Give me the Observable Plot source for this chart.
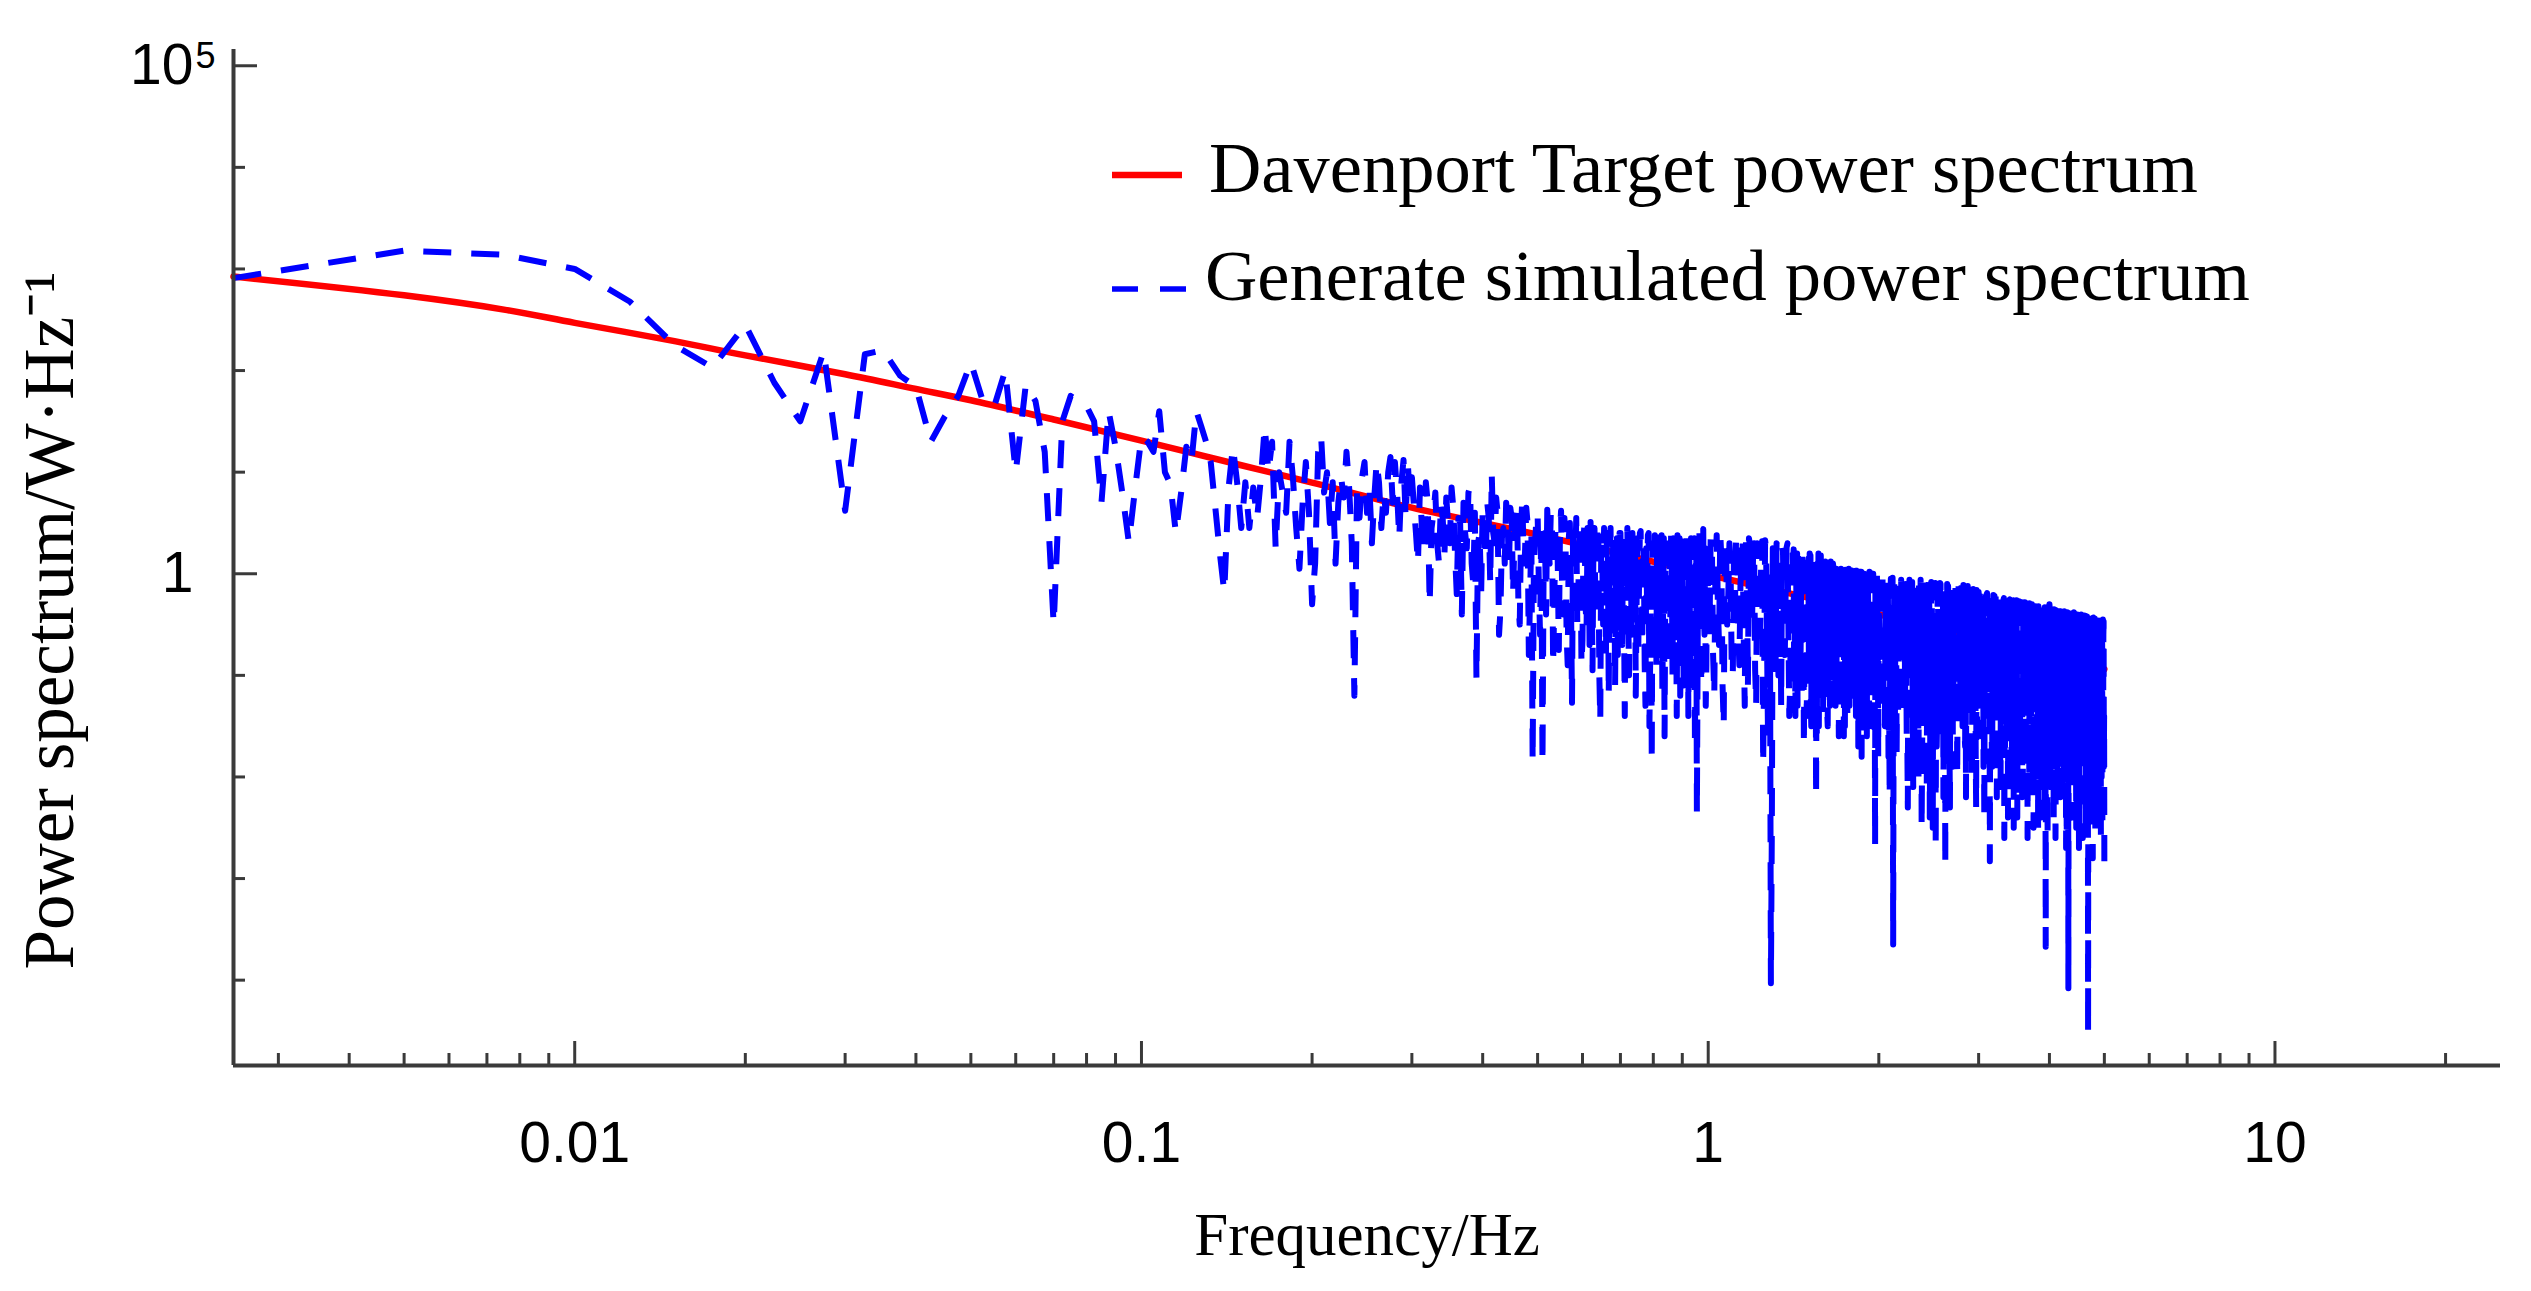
<!DOCTYPE html>
<html>
<head>
<meta charset="utf-8">
<script src="https://cdn.jsdelivr.net/npm/d3@7"></script>
<script src="https://cdn.jsdelivr.net/npm/@observablehq/plot@0.6"></script>
<style>
  html, body { margin: 0; padding: 0; background: #ffffff; }
  #chart { position: relative; width: 2531px; height: 1291px; overflow: hidden; }
  #legend { position: absolute; left: 0; top: 0; pointer-events: none; }
</style>
</head>
<body>
<div id="chart"></div>
<script>
// ---------- DATA ----------
// Davenport target spectrum (Hz, W·Hz^-1)
const targetFreq  = [0.0025, 0.005, 0.0075, 0.01, 0.015, 0.02, 0.03, 0.04, 0.05, 0.07, 0.1, 0.15, 0.2, 0.3, 0.5, 0.7, 1, 1.5, 2, 3, 5];
const targetPower = [841, 550, 398, 295, 195, 141, 92, 66, 51, 33, 20.4, 11.7, 7.9, 4.47, 2.43, 1.57, 0.977, 0.582, 0.398, 0.229, 0.115];

// Simulated spectrum, log10 of power, read segment by segment on the frequency grid
// segment 1: 0.0025 … 0.1 Hz, step 0.0025
const sim1Start = 0.0025, sim1Step = 0.0025;
const sim1Log10 = [
  2.91, 3.18, 3.14, 3.00, 2.68, 2.25, 2.03, 2.45, 1.88, 1.50,
  2.19, 0.62, 2.16, 2.20, 1.95, 1.84, 1.30, 1.55, 1.75, 2.08,
  1.70, 1.65, 2.00, 1.00, 1.86, 1.70, 1.20, -0.50, 1.50, 1.75,
  1.70, 1.65, 1.50, 0.70, 1.60, 1.25, 0.80, 0.31, 0.85, 1.35
];
// segment 2: 0.1025 … 0.3 Hz, step 0.0025
const sim2Start = 0.1025, sim2Step = 0.0025;
const sim2Log10 = [
  1.30, 1.20, 1.60, 1.00, 0.88, 0.40, 0.80, 1.25, 1.10, 1.60,
  1.45, 1.30, 1.10, 0.65, 0.20, -0.18, 0.85, 1.25, 0.90, 0.45,
  0.90, 0.45, 0.85, 0.55, 0.95, 1.45, 1.00, 1.30, 0.25, 1.00,
  0.80, 0.60, 1.30, 0.95, 0.45, 0.05, 0.70, 1.10, 0.60, -0.30,
  0.10, 1.20, 1.35, 0.80, 1.00, 0.50, 0.90, 0.10, 0.70, 0.95,
  0.75, 1.20, 0.85, 0.30, -1.20, 0.80, 0.55, 0.95, 1.10, 0.60,
  0.85, 0.30, 0.75, 1.10, 0.90, 0.45, 0.80, 0.60, 1.00, 1.15,
  0.70, 1.10, 0.80, 0.35, 0.90, 1.12, 0.55, 1.10, 0.75, 0.95
];
// segment 3: 0.305 … 1.0 Hz, step 0.005
const sim3Start = 0.305, sim3Step = 0.005;
const sim3Log10 = [
  0.40, 0.85, 0.20, 0.70, 0.45, 0.80, 0.10, 0.55, 0.75, 0.30,
  0.65, -0.20, 0.50, 0.70, 0.25, 0.85, -0.10, -1.04, 0.40, 0.65,
  0.15, 0.55, 0.98, 0.30, 0.60, -0.35, 0.45, 0.70, 0.05, 0.55,
  0.30, 0.65, -0.50, 0.75, 0.20, 0.50, -0.20, -1.85, 0.30, 0.60,
  -0.60, -1.87, 0.40, 0.63, 0.10, 0.55, -0.30, 0.45, -0.75, 0.62,
  -0.40, 0.35, -0.90, 0.50, -1.27, 0.30, 0.55, -0.20, 0.40, -0.65,
  0.50, -0.55, 0.30, 0.51, -0.95, 0.45, -0.30, 0.35, -1.45, 0.20,
  0.45, -0.80, 0.40, 0.15, -0.60, 0.42, -1.10, 0.35, -0.35, 0.40,
  -0.70, -0.30, 0.30, 0.45, -1.00, 0.25, 0.40, -0.45, -1.20, 0.35,
  -0.10, 0.42, -0.70, 0.15, -1.30, -0.30, 0.40, -0.85, -1.85, 0.25,
  0.38, -0.90, 0.20, 0.40, -0.50, -1.20, 0.35, -0.15, 0.30, -0.90,
  0.25, 0.40, -1.00, -0.40, 0.30, -1.40, -0.25, 0.35, -0.70, 0.20,
  -1.10, 0.38, -0.35, 0.10, 0.30, -1.10, 0.25, -0.60, 0.35, -0.45,
  -2.36, 0.20, 0.40, -0.80, 0.15, 0.44, -0.60, -1.30, 0.30, -0.30
];
// segment 3b: 0.3075 … 0.9975 Hz, step 0.005 (in-between grid points)
const sim3bStart = 0.3075, sim3bStep = 0.005;
const sim3bLog10 = [
  0.10, 0.45, 0.90, -0.30, 0.60, 0.30, 0.70, 0.20, 0.50, 0.85,
  0.20, 0.55, -0.40, 0.40, 0.80, 0.10, 0.60, 0.30, -0.20, 0.25,
  0.70, -0.10, 0.40, 0.75, -0.60, 0.35, 0.10, 0.55, 0.65, -0.20,
  0.60, -0.30, 0.45, 0.10, 0.65, -0.80, 0.40, 0.10, 0.55, -0.10,
  0.50, 0.20, -0.40, 0.30, 0.60, -0.90, 0.45, 0.15, 0.40, -0.20,
  0.55, -0.60, 0.35, -0.20, 0.45, 0.10, -0.50, 0.50, -0.90, 0.35,
  -0.30, 0.45, -0.70, 0.10, 0.40, -0.40, 0.50, -1.00, 0.30, -0.50,
  0.10, 0.35, -1.20, 0.45, -0.20, 0.30, 0.05, -0.80, 0.40, -0.20,
  0.35, -1.40, 0.10, -0.40, 0.35, -0.60, 0.05, 0.40, -0.30, -0.80,
  0.40, -0.50, 0.30, -0.90, 0.25, 0.38, -1.50, 0.10, 0.30, -0.60,
  -0.30, 0.35, -0.80, 0.00, 0.38, -0.40, -1.60, 0.30, -0.60, 0.20,
  -0.50, 0.10, 0.35, -0.90, -0.20, 0.38, -0.60, -1.20, 0.30, -0.30,
  0.25, -0.80, 0.40, -1.40, -0.10, 0.35, -0.90, 0.20, -1.70, 0.30,
  -1.00, -0.30, 0.35, -1.10, 0.42, -0.40, 0.25, -0.90, 0.10
];
// segment 4: 1.01 … 2.0 Hz, step 0.01
const sim4Start = 1.01, sim4Step = 0.01;
const sim4Log10 = [
  0.35, -0.80, 0.10, -0.30, 0.40, -1.10, 0.20, -0.50, 0.30, -0.90,
  0.15, 0.38, -0.60, -0.10, 0.30, -1.30, 0.05, 0.35, -0.40, 0.20,
  -0.95, 0.30, -0.20, 0.10, -1.88, 0.33, -0.70, 0.00, -4.03, 0.25,
  -0.45, 0.30, -1.00, 0.10, 0.28, -0.60, -0.15, 0.30, -1.40, 0.05,
  0.25, -0.75, -0.10, 0.23, -1.20, 0.10, -0.40, 0.22, -0.90, 0.00,
  0.20, -1.50, -0.20, 0.15, -2.20, 0.10, -0.55, 0.18, -1.00, -0.05,
  0.12, -0.70, 0.08, -1.30, -0.20, 0.10, -0.85, 0.05, -0.35, -1.60,
  0.06, -0.50, -1.10, 0.04, -0.25, -1.45, 0.05, -0.70, 0.02, -1.20,
  -0.30, 0.03, -0.95, -1.70, 0.02, -0.45, -1.10, 0.00, -0.60, -1.35,
  0.02, -0.80, -0.20, -1.50, 0.00, -0.55, -2.67, -0.10, -1.00, -0.30
];
// segment 4b: 1.005 … 1.995 Hz, step 0.01 (in-between grid points)
const sim4bStart = 1.005, sim4bStep = 0.01;
const sim4bLog10 = [
  -0.60, 0.30, -1.20, 0.38, -0.70, 0.15, -1.50, 0.32, -0.20, 0.10,
  -1.00, -0.30, 0.35, -0.90, 0.10, -0.60, 0.36, -1.10, 0.28, -0.50,
  0.30, -1.30, 0.15, -0.60, 0.32, -1.00, 0.25, -1.60, -0.30, -2.50,
  0.20, -0.90, 0.28, -0.40, -1.30, 0.22, -0.80, 0.26, -0.50, -1.10,
  -0.60, 0.24, -1.40, 0.20, -0.30, -0.90, 0.22, -1.70, 0.15, -0.50,
  -0.80, 0.18, -0.60, -1.20, 0.16, -1.60, 0.20, -0.90, 0.10, -1.40,
  -0.50, 0.10, -1.50, -0.30, 0.12, -1.00, -0.40, 0.08, -1.20, 0.06,
  -0.90, 0.05, -0.40, -1.60, 0.04, -0.80, 0.06, -1.30, -0.30, 0.03,
  -1.10, -0.40, 0.02, -1.20, -0.60, 0.03, -1.80, -0.20, 0.00, -0.90,
  -1.60, -0.30, 0.02, -1.00, -0.50, 0.00, -1.30, -0.70, 0.01, -1.80
];
// segment 4c: 1.4025 … 1.9975 Hz, step 0.005 (in-between grid points)
const sim4cStart = 1.4025, sim4cStep = 0.005;
const sim4cLog10 = [
  -0.40, -0.90, 0.15, -1.10, -0.50, 0.20, -0.70, -1.30, -0.20, 0.18,
  -0.80, -0.30, -1.20, 0.15, -0.60, -1.00, 0.16, -0.40, -1.40, -0.10,
  0.15, -0.90, -0.50, -1.30, 0.12, -0.70, -0.20, -1.10, 0.14, -0.60,
  -1.00, 0.10, -0.40, -1.50, -0.80, 0.12, -0.30, -1.20, 0.08, -0.70,
  -0.40, -1.10, 0.10, -0.80, -1.40, -0.30, 0.08, -0.90, -0.50, 0.06,
  -1.20, -0.60, 0.07, -1.00, -0.40, -1.30, 0.05, -0.70, -0.20, -1.10,
  0.05, -0.80, -1.30, -0.40, 0.04, -1.00, -0.60, 0.05, -1.50, -0.30,
  -0.90, 0.03, -0.50, -1.20, -0.20, 0.04, -1.00, -0.70, 0.02, -1.30,
  -0.50, 0.02, -1.00, -0.30, -1.40, 0.03, -0.70, -0.20, -1.20, 0.01,
  -0.80, -1.30, 0.02, -0.50, -1.00, 0.00, -0.60, -1.50, -0.30, 0.01,
  -1.10, -0.40, 0.00, -0.90, -1.40, -0.20, 0.01, -0.80, -1.20, -0.40,
  0.00, -1.00, -0.60, -1.30, -0.05, -0.70, -1.10, 0.00, -0.50, -0.90
];
// segment 5: 2.02 … 5.0 Hz, step 0.02
const sim5Start = 2.02, sim5Step = 0.02;
const sim5Log10 = [
  0.00, -1.20, -0.40, -1.80, -0.05, -3.65, -0.30, -1.40, -0.10, -0.90,
  -0.05, -1.60, -0.60, -0.08, -2.10, -0.35, -1.10, -0.06, -2.50, -0.50,
  -0.07, -1.30, -2.40, -0.20, -0.80, -2.70, -0.10, -1.50, -0.45, -2.20,
  -2.87, -0.10, -1.00, -0.40, -1.90, -0.12, -0.70, -1.40, -0.15, -1.10,
  -0.11, -1.70, -0.50, -0.15, -1.30, -2.00, -0.20, -0.80, -1.60, -0.18,
  -1.10, -0.25, -1.90, -0.40, -0.20, -1.40, -2.83, -0.30, -0.90, -0.22,
  -1.50, -0.60, -0.22, -2.10, -1.00, -0.25, -1.70, -0.40, -2.40, -0.28,
  -1.20, -0.30, -2.50, -0.70, -0.26, -1.80, -1.00, -0.30, -2.20, -0.50,
  -0.28, -1.60, -2.60, -0.35, -1.10, -0.30, -2.00, -0.60, -0.32, -1.40,
  -2.50, -0.30, -0.90, -1.80, -0.35, -2.30, -3.67, -0.40, -1.20, -0.30,
  -2.10, -0.70, -0.33, -1.60, -2.60, -0.38, -1.00, -0.36, -2.20, -1.40,
  -0.36, -1.90, -0.50, -2.70, -0.38, -4.08, -1.10, -0.40, -2.00, -0.60,
  -0.38, -1.70, -2.50, -0.40, -0.90, -2.20, -0.42, -1.50, -2.60, -0.40,
  -1.20, -2.30, -0.42, -4.52, -0.45, -1.80, -0.80, -2.40, -0.43, -1.50,
  -2.60, -0.45, -1.00, -2.20, -0.43, -1.70, -0.50, -2.50, -0.60, -2.83
];
// segment 5b: 2.01 … 4.99 Hz, step 0.02 (in-between grid points)
const sim5bStart = 2.01, sim5bStep = 0.02;
const sim5bLog10 = [
  -0.70, 0.00, -1.50, -0.20, -2.20, -0.90, -0.05, -1.80, -0.60, -0.06,
  -1.40, -0.10, -2.30, -0.70, -0.08, -1.60, -0.30, -2.00, -0.06, -1.20,
  -0.40, -2.10, -0.07, -1.00, -2.50, -0.15, -1.70, -0.60, -0.10, -1.30,
  -0.30, -1.60, -0.12, -2.30, -0.60, -1.20, -0.11, -2.00, -0.50, -0.14,
  -1.50, -0.40, -2.20, -0.12, -0.90, -0.35, -1.40, -0.16, -2.30, -0.70,
  -0.20, -1.60, -0.60, -2.40, -0.22, -0.80, -1.10, -0.25, -1.90, -0.50,
  -0.24, -2.20, -0.90, -0.40, -1.50, -0.24, -2.60, -0.70, -0.26, -1.60,
  -0.50, -2.00, -0.28, -1.30, -0.60, -2.40, -0.27, -1.50, -0.40, -2.10,
  -1.00, -0.30, -2.20, -0.60, -0.29, -1.70, -0.45, -2.50, -0.32, -0.90,
  -0.33, -1.90, -0.60, -2.40, -0.31, -1.00, -2.10, -0.34, -2.60, -0.50,
  -0.35, -1.80, -0.70, -2.40, -0.37, -1.20, -2.00, -0.50, -0.37, -1.70,
  -2.30, -0.60, -0.37, -1.50, -2.60, -0.70, -1.90, -0.39, -1.30, -2.40,
  -0.60, -0.39, -2.00, -1.10, -0.41, -2.70, -0.80, -0.40, -1.90, -1.20,
  -0.41, -2.50, -0.90, -1.70, -0.44, -2.20, -0.60, -0.42, -2.80, -1.00,
  -0.44, -1.60, -2.40, -0.46, -1.20, -0.44, -2.60, -0.90, -0.45, -1.90
];
// segment 5c: 2.005 … 4.995 Hz, step 0.01 (in-between grid points)
const sim5cStart = 2.005, sim5cStep = 0.01;
const sim5cLog10 = [
  -0.60, -1.10, -0.02, -0.80, -1.40, -0.30, -0.90, -0.03, -1.20, -0.50,
  -1.00, -0.04, -0.70, -1.50, -0.20, -0.90, -1.30, -0.05, -0.60, -1.10,
  -0.40, -0.05, -1.20, -0.80, -1.60, -0.20, -0.06, -1.00, -0.50, -1.30,
  -0.07, -0.90, -1.40, -0.30, -0.70, -0.06, -1.20, -0.60, -1.70, -0.10,
  -0.80, -1.30, -0.07, -0.50, -1.10, -0.30, -1.50, -0.08, -0.90, -0.60,
  -1.20, -0.09, -0.70, -1.40, -0.40, -1.00, -0.09, -1.60, -0.50, -0.20,
  -1.10, -0.70, -0.10, -1.30, -0.90, -0.40, -1.70, -0.11, -0.80, -1.20,
  -0.30, -1.00, -0.12, -1.50, -0.60, -1.10, -0.12, -0.90, -1.40, -0.40,
  -0.13, -1.20, -0.70, -1.60, -0.30, -0.14, -1.00, -0.60, -1.30, -0.15,
  -0.80, -1.50, -0.40, -0.15, -1.10, -0.70, -1.80, -0.16, -0.90, -0.50,
  -1.30, -0.17, -0.80, -1.20, -0.50, -0.18, -1.60, -0.90, -0.30, -1.10,
  -0.19, -0.70, -1.40, -0.40, -1.00, -0.20, -1.70, -0.60, -0.21, -1.20,
  -0.80, -0.22, -1.50, -0.50, -1.10, -0.22, -0.90, -1.80, -0.40, -0.23,
  -1.20, -0.60, -0.24, -1.40, -0.90, -0.40, -1.60, -0.24, -0.70, -1.10,
  -0.25, -1.30, -0.50, -1.80, -0.80, -0.26, -1.10, -0.60, -1.50, -0.26,
  -0.90, -1.40, -0.40, -0.27, -1.20, -0.70, -1.90, -0.28, -1.00, -0.50,
  -1.30, -0.28, -0.80, -1.60, -0.50, -0.29, -1.10, -0.70, -2.00, -0.30,
  -0.90, -1.40, -0.30, -0.60, -1.70, -0.31, -1.00, -0.50, -1.30, -0.31,
  -1.80, -0.70, -0.32, -1.20, -0.50, -1.50, -0.32, -0.90, -2.10, -0.33,
  -1.10, -0.60, -0.33, -1.40, -0.80, -1.90, -0.34, -1.00, -0.50, -1.60,
  -0.34, -1.20, -0.70, -2.00, -0.35, -0.90, -1.50, -0.35, -0.60, -1.30,
  -1.80, -0.36, -1.00, -0.50, -1.60, -0.36, -0.80, -2.10, -0.37, -1.20,
  -0.60, -1.40, -0.37, -1.00, -1.90, -0.38, -0.70, -1.30, -0.38, -2.20,
  -0.90, -0.39, -1.50, -0.60, -1.10, -0.39, -2.00, -0.80, -0.40, -1.40,
  -0.70, -1.80, -0.40, -1.00, -0.55, -1.60, -0.41, -2.30, -0.90, -0.41,
  -1.30, -0.60, -1.90, -0.42, -1.10, -0.80, -0.42, -2.10, -1.40, -0.43,
  -0.70, -1.70, -0.43, -1.00, -2.40, -0.43, -1.20, -0.60, -1.80, -0.44,
  -0.44, -1.30, -0.90, -2.00, -0.44, -0.70, -1.60, -0.45, -1.10, -2.20,
  -0.45, -0.80, -1.50, -0.45, -1.90, -1.00, -0.46, -1.30, -2.30, -0.46,
  -0.90, -1.60, -0.46, -1.20, -2.00, -0.46, -0.80, -1.70, -0.47, -1.40
];

// axes
const xDomain = [0.0025, 25];
const yDomain = [Math.pow(10, -4.84), Math.pow(10, 5.16)];
const xMajorTicks = [0.01, 0.1, 1, 10];
const xTickLabels = ["0.01", "0.1", "1", "10"];
const xMinorTicks = [0.003, 0.004, 0.005, 0.006, 0.007, 0.008, 0.009,
                     0.02, 0.03, 0.04, 0.05, 0.06, 0.07, 0.08, 0.09,
                     0.2, 0.3, 0.4, 0.5, 0.6, 0.7, 0.8, 0.9,
                     2, 3, 4, 5, 6, 7, 8, 9, 20];
const yMajorTicks = [1e5, 1];
const yTickLabels = ["10", "1"];        // base of each label
const yTickExponents = ["5", ""];       // superscript of each label
const yMinorTicks = [1e4, 1e3, 1e2, 1e1, 1e-1, 1e-2, 1e-3, 1e-4];
const xTitle = "Frequency/Hz";
const yTitle = "Power spectrum/W\u00B7Hz\u207B\u00B9";
const legendLabels = ["Davenport Target power spectrum", "Generate simulated power spectrum"];
const seriesColors = ["#ff0000", "#0000ff"];

// ---------- BUILD ----------
const target = targetFreq.map((f, i) => ({f, p: targetPower[i]}));
function segment(start, step, logs) {
  return logs.map((v, i) => ({f: +(start + i * step).toFixed(5), p: Math.pow(10, v)}));
}
const simulated = d3.sort([
  ...segment(sim1Start, sim1Step, sim1Log10),
  ...segment(sim2Start, sim2Step, sim2Log10),
  ...segment(sim3Start, sim3Step, sim3Log10),
  ...segment(sim3bStart, sim3bStep, sim3bLog10),
  ...segment(sim4Start, sim4Step, sim4Log10),
  ...segment(sim4bStart, sim4bStep, sim4bLog10),
  ...segment(sim4cStart, sim4cStep, sim4cLog10),
  ...segment(sim5Start, sim5Step, sim5Log10),
  ...segment(sim5bStart, sim5bStep, sim5bLog10),
  ...segment(sim5cStart, sim5cStep, sim5cLog10)
], d => d.f);

const W = 2531, H = 1291;
const mL = 233, mR = 31, mT = 49, mB = 226;
const frameW = W - mL - mR, frameH = H - mT - mB;
const axisColor = "#3a3a3a";
const sans = "'Liberation Sans', Arial, sans-serif";
const serif = "'Liberation Serif', 'Times New Roman', serif";
const supData = yMajorTicks.map((v, i) => ({v, s: yTickExponents[i]})).filter(d => d.s);

const chart = Plot.plot({
  width: W, height: H,
  marginLeft: mL, marginRight: mR, marginTop: mT, marginBottom: mB,
  style: {background: "#ffffff", overflow: "visible"},
  x: {type: "log", domain: xDomain, axis: null},
  y: {type: "log", domain: yDomain, axis: null},
  marks: [
    Plot.line(target, {x: "f", y: "p", stroke: seriesColors[0], strokeWidth: 6.5, curve: "catmull-rom"}),
    Plot.line(simulated, {x: "f", y: "p", stroke: seriesColors[1], strokeWidth: 6,
      strokeDasharray: "28,20", strokeLinecap: "butt", strokeLinejoin: "round"}),
    Plot.ruleY([yDomain[0]], {stroke: axisColor, strokeWidth: 4}),
    Plot.ruleX([xDomain[0]], {stroke: axisColor, strokeWidth: 4}),
    Plot.tickX(xMajorTicks, {x: d => d, stroke: axisColor, strokeWidth: 3, insetTop: frameH - 24}),
    Plot.tickX(xMinorTicks, {x: d => d, stroke: axisColor, strokeWidth: 3, insetTop: frameH - 12}),
    Plot.tickY(yMajorTicks, {y: d => d, stroke: axisColor, strokeWidth: 3, insetRight: frameW - 24}),
    Plot.tickY(yMinorTicks, {y: d => d, stroke: axisColor, strokeWidth: 3, insetRight: frameW - 12}),
    Plot.axisX(xMajorTicks, {tickSize: 0, tickPadding: 56, label: null,
      tickFormat: d => xTickLabels[xMajorTicks.indexOf(d)],
      fontSize: 57, fontFamily: sans, fill: "#000"}),
    Plot.axisY(yMajorTicks, {tickSize: 0, tickPadding: 40, label: null,
      tickFormat: d => yTickLabels[yMajorTicks.indexOf(d)],
      fontSize: 57, fontFamily: sans, fill: "#000"}),
    Plot.text(supData, {y: "v", text: "s", frameAnchor: "left", textAnchor: "start", lineAnchor: "top",
      dx: -38, dy: -23, fontSize: 36, fontFamily: sans, fill: "#000"}),
    Plot.text([xTitle], {text: d => d, frameAnchor: "bottom", textAnchor: "middle", dy: 170, lineAnchor: "middle",
      fontSize: 61, fontFamily: serif, fill: "#000"}),
    Plot.text([yTitle], {text: d => d, frameAnchor: "left", textAnchor: "middle", rotate: -90, dx: -183, dy: 63,
      lineAnchor: "middle", fontSize: 71, fontFamily: serif, fill: "#000"})
  ]
});
const holder = document.getElementById("chart");
holder.appendChild(chart);

// ---------- LEGEND (overlay) ----------
const leg = d3.select(holder).append("svg")
  .attr("id", "legend").attr("width", W).attr("height", 400);
const rows = [
  {label: legendLabels[0], color: seriesColors[0], dash: null, width: 6.5, lineY: 175, textY: 192, textX: 1209, x1: 1112, x2: 1182},
  {label: legendLabels[1], color: seriesColors[1], dash: "26,22", width: 5.5, lineY: 289, textY: 300, textX: 1205, x1: 1112, x2: 1186}
];
rows.forEach(r => {
  leg.append("line").attr("x1", r.x1).attr("x2", r.x2).attr("y1", r.lineY).attr("y2", r.lineY)
    .attr("stroke", r.color).attr("stroke-width", r.width)
    .attr("stroke-dasharray", r.dash);
  leg.append("text").attr("x", r.textX).attr("y", r.textY)
    .attr("font-family", serif).attr("font-size", 72.5).attr("fill", "#000")
    .text(r.label);
});
</script>
</body>
</html>
